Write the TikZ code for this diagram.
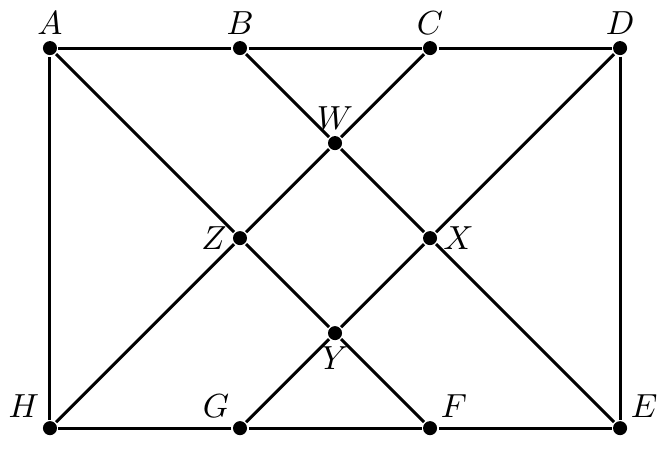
\documentclass[tikz,border=0pt]{standalone}
\usepackage{tikz}

\begin{document}
\begin{tikzpicture}[x=2cm, y=2cm, line width=0.9pt,
        pt/.style={circle, fill=black, inner sep=0pt, minimum size=4.2pt}]
        \useasboundingbox (-0.263, -0.116) rectangle (3.247, 2.253);
        % Points
        \node[pt, label={[inner sep=1pt]above:$A$}] (A) at (0, 2) {};
        \node[pt, label={[inner sep=1pt]above:$B$}] (B) at (1, 2) {};
        \node[pt, label={[inner sep=1pt]above:$C$}] (C) at (2, 2) {};
        \node[pt, label={[inner sep=1pt]above:$D$}] (D) at (3, 2) {};
        \node[pt, label={[inner sep=1pt]above right:$E$}] (E) at (3, 0) {};
        \node[pt, label={[inner sep=1pt]above right:$F$}] (F) at (2, 0) {};
        \node[pt, label={[inner sep=1pt]above left:$G$}] (G) at (1, 0) {};
        \node[pt, label={[inner sep=1pt]above left:$H$}] (H) at (0, 0) {};
        \node[pt, label={[inner sep=1pt]above:$W$}] (W) at (1.5, 1.5) {};
        \node[pt, label={[inner sep=1pt]right:$X$}] (X) at (2, 1) {};
        \node[pt, label={[inner sep=1pt]below:$Y$}] (Y) at (1.5, 0.5) {};
        \node[pt, label={[inner sep=1pt]left:$Z$}] (Z) at (1, 1) {};

        % Lines
        \draw (A) -- (B) -- (C) -- (D) -- (E) -- (F) -- (G) -- (H) -- (A);
        \draw (A) -- (Z) -- (Y) -- (F);
        \draw (B) -- (W) -- (X) -- (E);
        \draw (C) -- (W) -- (Z) -- (H);
        \draw (D) -- (X) -- (Y) -- (G);
    \end{tikzpicture}
\end{document}
